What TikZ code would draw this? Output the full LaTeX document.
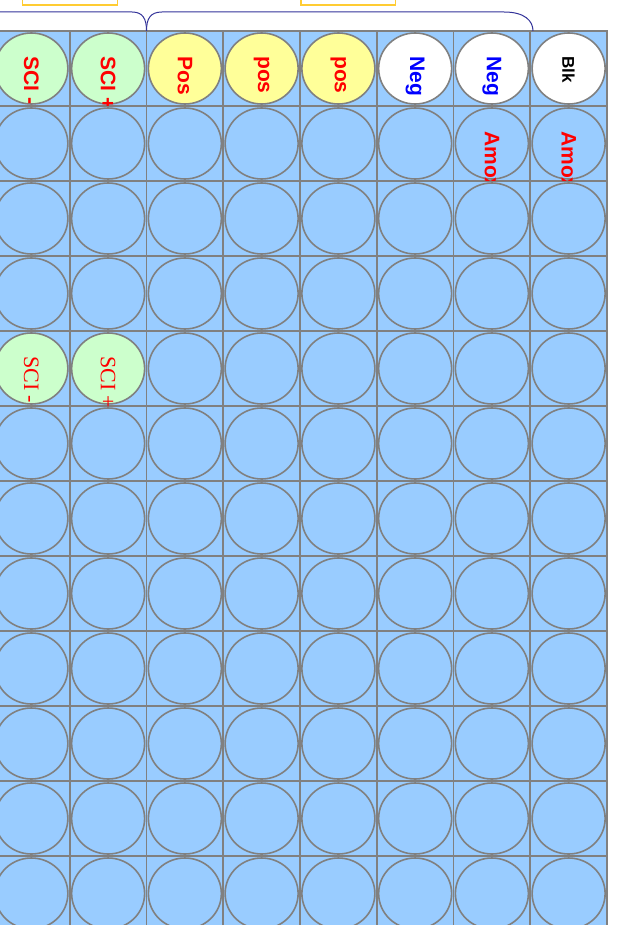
\documentclass[tikz,border=0pt]{standalone}
\usepackage{fontspec}
\setmainfont{Liberation Sans}
\newfontfamily\serifA{Liberation Serif}
\usetikzlibrary{shapes.geometric}
\definecolor{plateblue}{RGB}{153,204,255}
\definecolor{wellgray}{RGB}{128,128,128}
\definecolor{sciGreen}{RGB}{204,255,204}
\definecolor{posYellow}{RGB}{255,255,153}
\definecolor{braceblue}{RGB}{51,51,153}
\definecolor{boxgold}{RGB}{255,204,51}
\newcommand\welllabel[4]{%
  \begin{scope}
    \clip (cell-#1-#2.north west) rectangle (cell-#1-#2.south east);
    \node[#3] (lab-#1-#2) at ([yshift=-25pt]cell-#1-#2.north) {#4};
  \end{scope}}
\begin{document}
\begin{tikzpicture}[x=1pt,y=-1pt,
  cellbox/.style={shape=rectangle, draw=wellgray, fill=plateblue, line width=1.6pt,
    minimum width=76.75pt, minimum height=75pt, inner sep=0pt, outer sep=0pt},
  well/.style={ellipse, draw=wellgray, line width=1.6pt, fill=#1,
    minimum width=73pt, minimum height=71pt, inner sep=0pt},
  boldlab/.style={rotate=-90, anchor=west, inner sep=0pt, text=#1,
    font=\bfseries\fontsize{21}{21}\selectfont},
  smalllab/.style={rotate=-90, anchor=west, inner sep=0pt, text=#1,
    font=\bfseries\fontsize{17}{17}\selectfont},
  seriflab/.style={rotate=-90, anchor=west, inner sep=0pt, text=#1,
    font=\serifA\fontsize{22}{22}\selectfont},
  bracepath/.style={draw=braceblue, line width=1pt},
  topbox/.style={draw=boxgold, line width=1.5pt, fill=white}
]
\useasboundingbox (0,0) rectangle (619,925);
\clip (0,0) rectangle (619,925);

% plate, row by row
\foreach \r in {1,...,12} {
  \foreach \c in {1,...,8} {
    \pgfmathsetmacro\cx{-7+76.75*(\c-0.5)}
    \pgfmathsetmacro\cy{31+75*(\r-0.5)}
    \node[cellbox] (cell-\r-\c) at (\cx,\cy) {};
  }
  \foreach \c in {1,...,8} {
    \def\wc{plateblue}
    \ifnum\r=1
      \ifnum\c<3 \def\wc{sciGreen}\else\ifnum\c<6 \def\wc{posYellow}\else\def\wc{white}\fi\fi
    \fi
    \ifnum\r=5
      \ifnum\c<3 \def\wc{sciGreen}\fi
    \fi
    \node[well=\wc] (well-\r-\c) at (cell-\r-\c.center) {};
  }
}

% labels
\welllabel{1}{1}{boldlab=red}{SCI -}
\welllabel{1}{2}{boldlab=red}{SCI +}
\welllabel{1}{3}{boldlab=red}{Pos}
\welllabel{1}{4}{boldlab=red}{pos}
\welllabel{1}{5}{boldlab=red}{pos}
\welllabel{1}{6}{boldlab=blue}{Neg}
\welllabel{1}{7}{boldlab=blue}{Neg}
\welllabel{1}{8}{smalllab=black}{Blk}
\welllabel{2}{7}{boldlab=red}{Amox}
\welllabel{2}{8}{boldlab=red}{Amox}
\welllabel{5}{1}{seriflab=red}{SCI -}
\welllabel{5}{2}{seriflab=red}{SCI +}

% braces above the plate
\coordinate (braceend) at (533,31);
\draw[bracepath] (-5,12) -- (132,12) .. controls (143,12) and (146.5,19) .. (cell-1-3.north west);
\draw[bracepath] (cell-1-3.north west) .. controls (146.5,19) and (150,12) .. (162,12)
  -- (504,12) .. controls (525,12) and (533,21) .. (braceend);

% boxes cut by the top edge
\draw[topbox] (22.7,-10) rectangle (117.3,5);
\draw[topbox] (301,-10) rectangle (395.7,5);
\end{tikzpicture}
\end{document}
